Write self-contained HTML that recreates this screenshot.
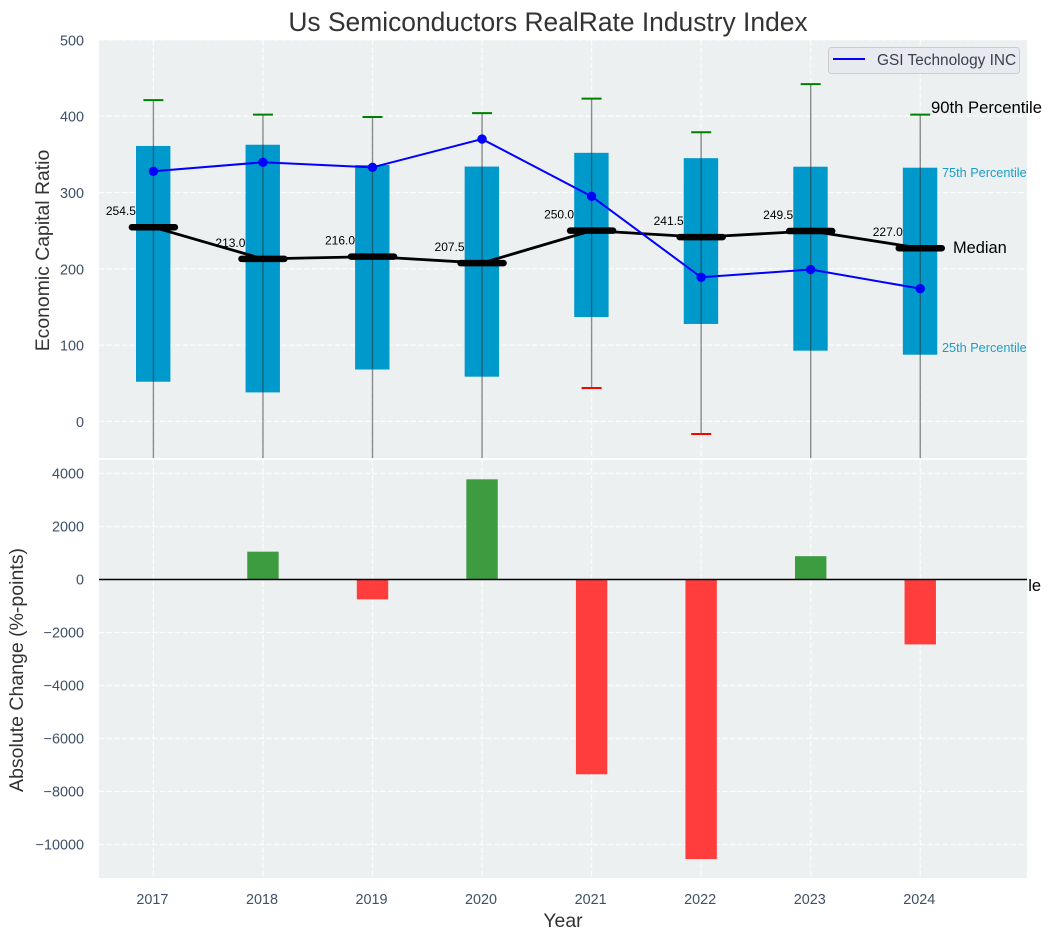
<!DOCTYPE html>
<html>
<head>
<meta charset="utf-8">
<title>Us Semiconductors RealRate Industry Index</title>
<style>
html,body{margin:0;padding:0;background:#fff;width:1051px;height:940px;overflow:hidden}
svg{display:block;font-family:"Liberation Sans",Arial,sans-serif}
</style>
</head>
<body>
<svg id="chart" width="1051" height="940" viewBox="0 0 1051 940" xmlns="http://www.w3.org/2000/svg">
<defs>
<clipPath id="topClip"><rect x="99" y="40" width="928" height="418"/></clipPath>
</defs>
<text x="548" y="31" text-anchor="middle" font-size="26.4" fill="#333333">Us Semiconductors RealRate Industry Index</text>
<rect x="99" y="40" width="928" height="418" fill="#ecf0f1"/>
<g id="topGrid"></g>
<g id="topLabels"></g>
<g id="medianLabels"></g>
<g id="boxes" clip-path="url(#topClip)"></g>
<g id="whiskers" clip-path="url(#topClip)"></g>
<g id="medians" clip-path="url(#topClip)"></g>
<g id="company" clip-path="url(#topClip)"></g>
<text x="931" y="113" font-size="16.65" fill="#000">90th Percentile</text>
<text x="942" y="177" font-size="12.7" fill="#1a9ec9">75th Percentile</text>
<text x="953" y="253" font-size="16.4" fill="#000">Median</text>
<text x="942" y="352" font-size="12.7" fill="#1a9ec9">25th Percentile</text>
<text x="931" y="591" font-size="16.5" fill="#000">10th Percentile</text>
<g>
<rect x="828.5" y="47.5" width="191" height="26" rx="3" fill="#e9eaf1" stroke="#cccccc" stroke-width="1"/>
<line x1="833" y1="59" x2="865" y2="59" stroke="#0000ff" stroke-width="2"/>
<text x="877" y="65" font-size="15.4" fill="#3a3f48">GSI Technology INC</text>
</g>
<rect x="99" y="460" width="928" height="418" fill="#ecf0f1"/>
<g id="bottomGrid"></g>
<g id="bars"></g>
<line x1="99" y1="579.5" x2="1027" y2="579.5" stroke="#000" stroke-width="1.5"/>
<g id="bottomLabels"></g>
<text transform="translate(49,250.5) rotate(-90)" text-anchor="middle" font-size="19.4" fill="#333333">Economic Capital Ratio</text>
<text transform="translate(23,670) rotate(-90)" text-anchor="middle" font-size="19.5" fill="#333333">Absolute Change (%-points)</text>
<text x="563" y="927" text-anchor="middle" font-size="19.4" fill="#333333">Year</text>
</svg>
<script>
const years = [2017, 2018, 2019, 2020, 2021, 2022, 2023, 2024];
const p90 = [421, 402, 399, 404, 423, 379, 442, 402];
const p75 = [361, 362.6, 336, 334, 352, 345, 333.8, 332.5];
const median = [254.5, 213.0, 216.0, 207.5, 250.0, 241.5, 249.5, 227.0];
const p25 = [52, 38, 68, 58.6, 136.8, 127.7, 92.7, 87.4];
const p10 = [-70, -75, -60, -65, 43.8, -16.5, -55, -60];
const companyValues = [327.8, 339.6, 333, 370, 295, 188.9, 199, 174];
const changes = [0, 1050, -750, 3780, -7350, -10550, 880, -2450];
const topTicks = [0, 100, 200, 300, 400, 500];
const bottomTicks = [-10000, -8000, -6000, -4000, -2000, 0, 2000, 4000];

const NS = 'http://www.w3.org/2000/svg';
function xPos(year) { return 153.4 + (year - 2017) * 109.55; }
function yTop(v) { return 421.4 - v * 0.763; }
function yBottom(v) { return 579.5 - v * 0.0265; }
function make(tag, parent, attrs, text) {
  const el = document.createElementNS(NS, tag);
  for (const k in attrs) el.setAttribute(k, attrs[k]);
  if (text !== undefined) el.textContent = text;
  parent.appendChild(el);
  return el;
}
function fmt(v) { return String(v).replace('-', '\u2212'); }
const G = id => document.getElementById(id);
const gridStyle = { stroke: '#ffffff', 'stroke-width': 1.3, 'stroke-dasharray': '5.3 2.3', opacity: 0.8 };

topTicks.forEach(t => {
  const l = make('line', G('topGrid'), Object.assign({ x1: 99, x2: 1027, y1: yTop(t), y2: yTop(t) }, gridStyle));
  
  
  const s = make('text', G('topLabels'), { x: 84, y: yTop(t) + 5.5, 'text-anchor': 'end', 'font-size': 14.4, fill: '#3f5068' }, fmt(t));
  
  
});
bottomTicks.forEach(t => {
  const l = make('line', G('bottomGrid'), Object.assign({ x1: 99, x2: 1027, y1: yBottom(t), y2: yBottom(t) }, gridStyle));
  
  
  const s = make('text', G('bottomLabels'), { x: 84, y: yBottom(t) + 5, 'text-anchor': 'end', 'font-size': 14.4, fill: '#3f5068' }, fmt(t));
  
  
});
years.forEach((yr, i) => {
  const x = xPos(yr);
  const g1 = make('line', G('topGrid'), Object.assign({ x1: x, x2: x, y1: 40, y2: 458 }, gridStyle));
  
  
  const g2 = make('line', G('bottomGrid'), Object.assign({ x1: x, x2: x, y1: 460, y2: 878 }, gridStyle));
  
  
  const tl = make('text', G('bottomLabels'), { x: x - 1, y: 904, 'text-anchor': 'middle', 'font-size': 14.4, fill: '#3f5068' }, yr);
  
  

  const ml = make('text', G('medianLabels'), { x: x - 17.5, y: yTop(median[i]) - 12, 'text-anchor': 'end', 'font-size': 12, fill: '#000' }, median[i].toFixed(1));
  
  

  const box = make('rect', G('boxes'), { x: x - 17.4, y: yTop(p75[i]), width: 34.4, height: yTop(p25[i]) - yTop(p75[i]), fill: '#0099cc' });
  
  

  const w = make('line', G('whiskers'), { x1: x, x2: x, y1: yTop(p90[i]), y2: yTop(p10[i]), stroke: '#333333', 'stroke-width': 1.4, opacity: 0.55 });
  
  
  const capHi = make('line', G('whiskers'), { x1: x - 10, x2: x + 10, y1: yTop(p90[i]), y2: yTop(p90[i]), stroke: '#008000', 'stroke-width': 2 });
  
  
  const capLo = make('line', G('whiskers'), { x1: x - 10, x2: x + 10, y1: yTop(p10[i]), y2: yTop(p10[i]), stroke: '#ff0000', 'stroke-width': 2 });
  
  

  if (changes[i] !== 0) {
    const y0 = yBottom(0), yv = yBottom(changes[i]);
    const b = make('rect', G('bars'), { x: x - 15.7, y: Math.min(y0, yv), width: 31.4, height: Math.abs(yv - y0), fill: changes[i] > 0 ? '#3c9c3f' : '#ff3d3d' });
    
    
  }
});

const medianPts = years.map((yr, i) => xPos(yr) + ',' + yTop(median[i])).join(' ');
const ml = make('polyline', G('medians'), { points: medianPts, fill: 'none', stroke: '#000', 'stroke-width': 2.8 });


years.forEach((yr, i) => {
  const x = xPos(yr);
  const m = make('line', G('medians'), { x1: x - 21.5, x2: x + 21.5, y1: yTop(median[i]), y2: yTop(median[i]), stroke: '#000', 'stroke-width': 6.5, 'stroke-linecap': 'round' });
  
  
});
const companyPts = years.map((yr, i) => xPos(yr) + ',' + yTop(companyValues[i])).join(' ');
const cl = make('polyline', G('company'), { points: companyPts, fill: 'none', stroke: '#0000ff', 'stroke-width': 2 });


years.forEach((yr, i) => {
  const c = make('circle', G('company'), { cx: xPos(yr), cy: yTop(companyValues[i]), r: 4.7, fill: '#0000ff' });
  
  
});
</script>
</body>
</html>
